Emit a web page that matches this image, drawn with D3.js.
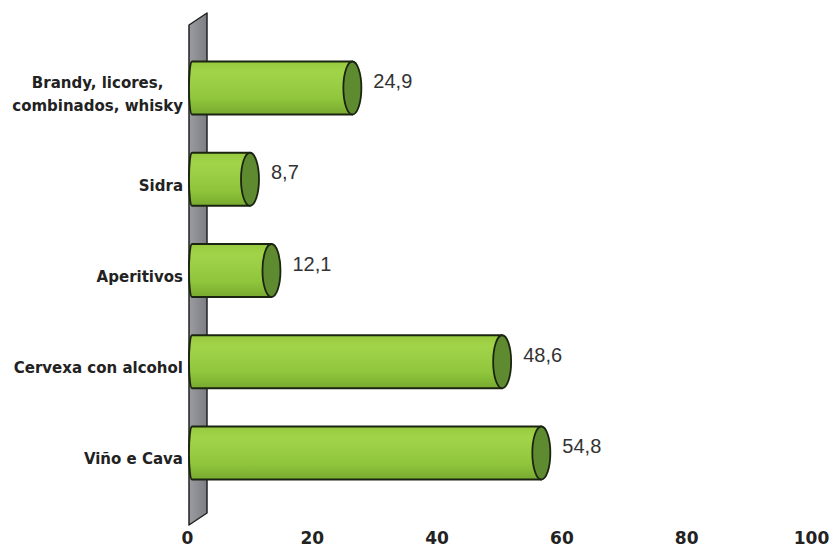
<!DOCTYPE html>
<html>
<head>
<meta charset="utf-8">
<script src="https://cdn.jsdelivr.net/npm/d3@7"></script>
<style>
  body { margin: 0; background: #fff; }
  svg { display: block; }
</style>
</head>
<body>
<svg id="chart" width="831" height="551"></svg>
<script>
var categories = ["Brandy, licores,|combinados, whisky", "Sidra", "Aperitivos", "Cervexa con alcohol", "Viño e Cava"];
var values = [24.9, 8.7, 12.1, 48.6, 54.8];
var tickValues = [0, 20, 40, 60, 80, 100];

var svg = d3.select("#chart");

// front plane (axis labels) and bar plane differ a bit because of the 3d look
var xAxis = d3.scaleLinear().domain([0, 100]).range([187, 811]);
var xBar = d3.scaleLinear().domain([0, 100]).range([195, 827]);
var y = d3.scalePoint().domain(categories).range([88, 453]);

var barH = 53;
var capRx = 9;
var labelRight = 183;

var defs = svg.append("defs");
var grad = defs.append("linearGradient").attr("id", "barGrad")
  .attr("x1", 0).attr("y1", 0).attr("x2", 0).attr("y2", 1);
grad.append("stop").attr("offset", "0%").attr("stop-color", "#96c93e");
grad.append("stop").attr("offset", "20%").attr("stop-color", "#a2d44a");
grad.append("stop").attr("offset", "70%").attr("stop-color", "#90c63c");
grad.append("stop").attr("offset", "100%").attr("stop-color", "#78aa2f");

var wallGrad = defs.append("linearGradient").attr("id", "wallGrad")
  .attr("x1", 0).attr("y1", 0).attr("x2", 1).attr("y2", 0);
wallGrad.append("stop").attr("offset", "0%").attr("stop-color", "#9a9ca1");
wallGrad.append("stop").attr("offset", "100%").attr("stop-color", "#7c7e84");

// back wall (grey slab)
var wx0 = 189, wdx = 18, wdy = 12, wTop = 25, wBot = 525;
svg.append("path")
  .attr("d", "M" + wx0 + "," + wBot + " L" + wx0 + "," + wTop +
    " L" + (wx0 + wdx) + "," + (wTop - wdy) + " L" + (wx0 + wdx) + "," + (wBot - wdy) + " Z")
  .attr("fill", "url(#wallGrad)")
  .attr("stroke", "#222")
  .attr("stroke-width", 1.5)
  .attr("stroke-linejoin", "round");

// bars as cylinders
var bars = svg.append("g").selectAll("g.bar")
  .data(categories.map(function(c, i){ return {cat: c, v: values[i]}; }))
  .join("g").attr("class", "bar");

bars.append("path")
  .attr("d", function(d){
    var x0 = xBar(0) - 3, xc = xBar(d.v);
    var t = y(d.cat) - barH / 2, b = y(d.cat) + barH / 2;
    return "M" + x0 + "," + t + " L" + xc + "," + t + " L" + xc + "," + b +
      " L" + x0 + "," + b + " A3," + (barH / 2) + " 0 0 1 " + x0 + "," + t + " Z";
  })
  .attr("fill", "url(#barGrad)")
  .attr("stroke", "#1b2410")
  .attr("stroke-width", 1.8)
  .attr("stroke-linejoin", "round");

bars.append("ellipse")
  .attr("cx", function(d){ return xBar(d.v); })
  .attr("cy", function(d){ return y(d.cat); })
  .attr("rx", capRx)
  .attr("ry", barH / 2)
  .attr("fill", "#5f8b30")
  .attr("stroke", "#1b2410")
  .attr("stroke-width", 1.8);

// value labels
bars.append("text")
  .attr("x", function(d){ return xBar(d.v) + capRx + 12; })
  .attr("y", function(d){ return y(d.cat) - 7; })
  .attr("dy", "0.35em")
  .attr("font-family", "Liberation Sans, Arial, sans-serif")
  .attr("font-size", 20)
  .attr("fill", "#333")
  .text(function(d){ return d3.format(".1f")(d.v).replace(".", ","); });

// category labels (multi-line ones are centred on each other)
var catLabels = svg.append("g").selectAll("text")
  .data(categories)
  .join("text")
  .attr("y", function(d){ return y(d) + 6; })
  .attr("font-family", "DejaVu Sans, Verdana, sans-serif")
  .attr("font-weight", "bold")
  .attr("font-size", 15)
  .attr("fill", "#222");

catLabels.each(function(d){
  var lines = d.split("|");
  var t = d3.select(this);
  lines.forEach(function(line, i){
    t.append("tspan")
      .attr("dy", i === 0 ? (0.35 - (lines.length - 1) * 0.75) + "em" : "1.5em")
      .text(line);
  });
  var w = 0;
  t.selectAll("tspan").each(function(){ w = Math.max(w, this.getComputedTextLength()); });
  t.attr("text-anchor", "middle");
  t.selectAll("tspan").attr("x", labelRight - w / 2);
});

// x axis tick labels
var axis = d3.axisBottom(xAxis).tickValues(tickValues).tickSize(0).tickPadding(0);
var gx = svg.append("g").attr("transform", "translate(0,532)").call(axis);
gx.select(".domain").remove();
gx.selectAll("text")
  .attr("font-family", "DejaVu Sans, Verdana, sans-serif")
  .attr("font-weight", "bold")
  .attr("font-size", 17)
  .attr("fill", "#222");
</script>
</body>
</html>
